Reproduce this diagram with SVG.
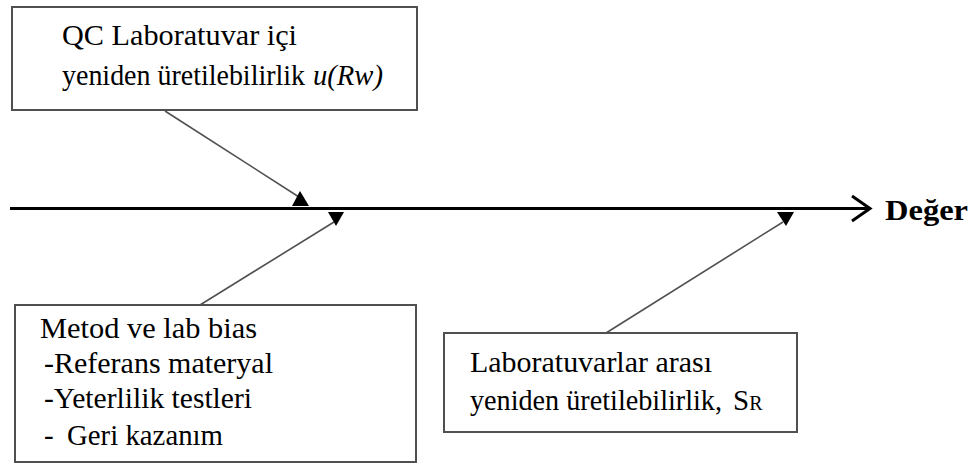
<svg xmlns="http://www.w3.org/2000/svg" width="973" height="464" viewBox="0 0 973 464">
<style>
.box{fill:#fff;stroke:#505050;stroke-width:2}
.t{font-family:"Liberation Serif","Times New Roman",Times,Tinos,"Noto Serif","DejaVu Serif",FreeSerif,serif;font-size:29px;fill:#000}
.b{font-weight:bold}
.i{font-style:italic}
.c{stroke:#505050;stroke-width:1.6;fill:none}
.h{fill:#000;stroke:none}
</style>
<rect width="973" height="464" fill="#fff"/>
<g id="main-axis">
<line x1="10" y1="208.5" x2="869" y2="208.5" stroke="#000" stroke-width="3"/>
<polyline points="852,196 870,208.5 852,221" fill="none" stroke="#000" stroke-width="3"/>
<text class="t b" x="885" y="220" textLength="83" lengthAdjust="spacingAndGlyphs">Değer</text>
</g>
<g id="connectors">
<line class="c" x1="165" y1="111" x2="299" y2="197"/>
<polygon class="h" points="292,206 309,206 300,191"/>
<line class="c" x1="200" y1="305" x2="334" y2="222"/>
<polygon class="h" points="328,212 344,212 336,226"/>
<line class="c" x1="606" y1="333" x2="783" y2="222"/>
<polygon class="h" points="777,212 794,212 786,226"/>
</g>
<g id="node-qc">
<rect class="box" x="12" y="7" width="405" height="103"/>
<text class="t" x="62" y="45" textLength="235" lengthAdjust="spacingAndGlyphs">QC Laboratuvar içi</text>
<text class="t" x="62" y="85" textLength="243" lengthAdjust="spacingAndGlyphs">yeniden üretilebilirlik</text>
<text class="t i" x="313" y="85" textLength="70" lengthAdjust="spacingAndGlyphs">u(Rw)</text>
</g>
<g id="node-bias">
<rect class="box" x="15" y="305" width="401" height="157"/>
<text class="t" x="40" y="338" textLength="217" lengthAdjust="spacingAndGlyphs">Metod ve lab bias</text>
<text class="t" x="44" y="373" textLength="229" lengthAdjust="spacingAndGlyphs">-Referans materyal</text>
<text class="t" x="44" y="408" textLength="208" lengthAdjust="spacingAndGlyphs">-Yeterlilik testleri</text>
<text class="t" x="44" y="445">-</text>
<text class="t" x="67" y="445" textLength="156" lengthAdjust="spacingAndGlyphs">Geri kazanım</text>
</g>
<g id="node-interlab">
<rect class="box" x="444" y="333" width="353" height="99"/>
<text class="t" x="470" y="372" textLength="242" lengthAdjust="spacingAndGlyphs">Laboratuvarlar arası</text>
<text class="t" x="470" y="410" textLength="252" lengthAdjust="spacingAndGlyphs">yeniden üretilebilirlik,</text>
<text class="t" x="733" y="410">S<tspan font-size="20">R</tspan></text>
</g>
</svg>
